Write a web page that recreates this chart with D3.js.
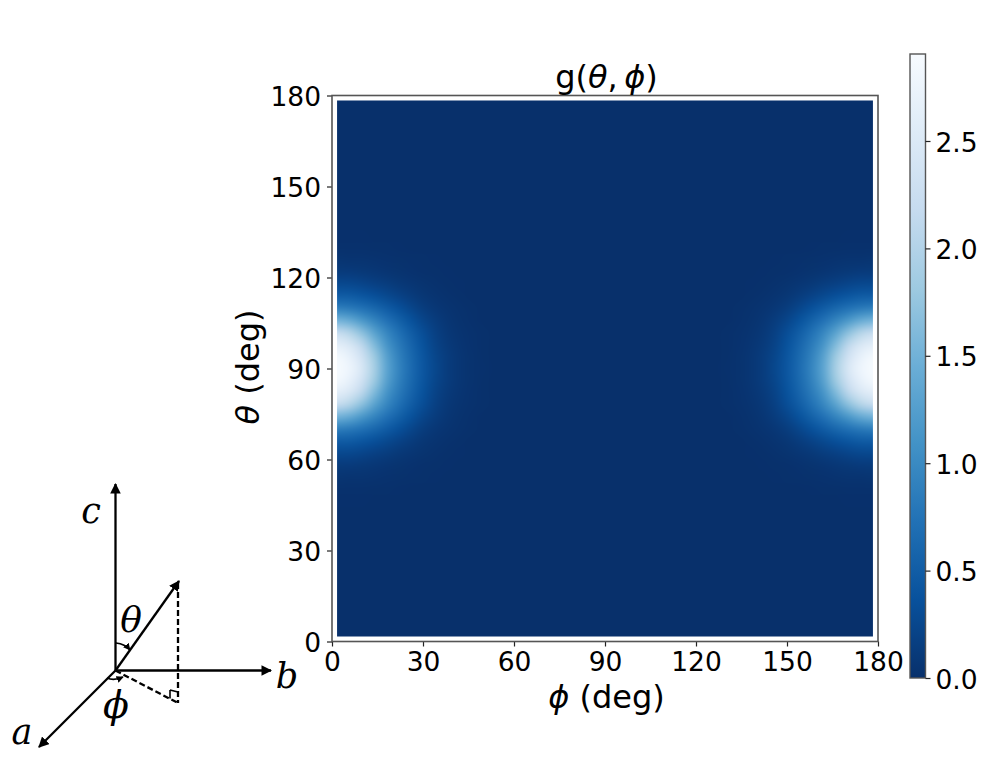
<!DOCTYPE html>
<html><head><meta charset="utf-8">
<script src="https://cdn.jsdelivr.net/npm/d3@7/dist/d3.min.js"></script>
<style>html,body{margin:0;padding:0;background:#fff}svg{display:block}
text{font-family:"DejaVu Sans",sans-serif;fill:#000}</style></head><body>
<svg id="c" width="996" height="779"></svg>
<script>
// ---- data ----
const tickDegrees = [0,30,60,90,120,150,180];
const colorbarTicks = [0,0.5,1,1.5,2,2.5];
const colorMax = 2.905;
const background = 0;
// distance of each row from theta = 90 deg
const rowOffsets = [0,4,8,12,16,20,24,28,32,36,40,44,48];
// distance of each column from the phi = 0 / 180 edge
const columnPhis = [2,6,10,14,18,22,26,30,34,38,42,46,50];
const lobeValues = [
 [2.88,2.75,2.42,1.90,1.33,.93,.65,.42,.25,.13,.065,.03,.012],
 [2.83,2.66,2.32,1.81,1.28,.90,.63,.41,.24,.13,.063,.03,.011],
 [2.58,2.42,2.07,1.59,1.13,.82,.58,.37,.21,.11,.057,.027,.01],
 [2.15,1.98,1.66,1.28,.96,.71,.50,.32,.18,.09,.048,.022,.007],
 [1.48,1.36,1.14,.92,.72,.54,.37,.23,.13,.064,.032,.014,.002],
 [.86,.80,.71,.60,.48,.35,.24,.14,.08,.043,.019,.01,0],
 [.48,.46,.41,.34,.27,.20,.13,.076,.042,.022,.01,.003,0],
 [.26,.25,.22,.18,.14,.094,.065,.039,.022,.01,.004,0,0],
 [.12,.115,.10,.08,.058,.04,.027,.016,.009,.004,0,0,0],
 [.052,.048,.043,.034,.026,.017,.012,.007,.004,0,0,0,0],
 [.015,.014,.013,.01,.008,.005,.003,.002,0,0,0,0,0],
 [.005,.004,.004,.003,.002,0,0,0,0,0,0,0,0],
 [0,0,0,0,0,0,0,0,0,0,0,0,0]
];
const gridCenters = d3.range(2,179,4);
const imageExtent = [1.67,178.33];
// ---- scales ----
const x = d3.scaleLinear().domain([0,180]).range([332,878]);
const y = d3.scaleLinear().domain([0,180]).range([641.5,95.5]);
const blues = d3.schemeBlues[9].slice().reverse();
const color = d3.scaleLinear()
  .domain(blues.map((_,i)=>i/8*colorMax)).range(blues).clamp(true);
const cbY = d3.scaleLinear().domain([0,colorMax]).range([678,54]);

const valueAt = (phi,theta)=>{
  const r = rowOffsets.indexOf(Math.abs(theta-90));
  const c = columnPhis.indexOf(Math.min(phi,180-phi));
  return (r<0||c<0)?background:lobeValues[r][c];
};
const svg = d3.select('#c');
const defs = svg.append('defs');

// ---- heat map: cells painted small, smoothed when enlarged ----
const n = gridCenters.length;
const small = document.createElement('canvas'); small.width=n; small.height=n;
const sc = small.getContext('2d');
gridCenters.forEach((th,j)=>gridCenters.forEach((ph,i)=>{
  sc.fillStyle = color(valueAt(ph,th)); sc.fillRect(i,n-1-j,1,1);
}));
const W = Math.round(x(180)-x(0)), H = Math.round(y(0)-y(180));
const big = document.createElement('canvas'); big.width=W; big.height=H;
const bc = big.getContext('2d');
bc.imageSmoothingEnabled=true; bc.imageSmoothingQuality='high';
bc.drawImage(small,0,0,W,H);
defs.append('clipPath').attr('id','imgclip').append('rect')
  .attr('x',x(imageExtent[0])).attr('y',y(imageExtent[1]))
  .attr('width',x(imageExtent[1])-x(imageExtent[0]))
  .attr('height',y(imageExtent[0])-y(imageExtent[1]));
svg.append('g').attr('clip-path','url(#imgclip)').append('image')
  .attr('x',x(0)).attr('y',y(180)).attr('width',W).attr('height',H)
  .attr('preserveAspectRatio','none').attr('href',big.toDataURL());

// ---- axes ----
const FS=26.5, spine='#555';
const gx = svg.append('g').attr('transform',`translate(0,${y(0)})`)
  .call(d3.axisBottom(x).tickValues(tickDegrees).tickSize(5).tickPadding(6).tickFormat(d3.format('d')));
const gy = svg.append('g').attr('transform',`translate(${x(0)},0)`)
  .call(d3.axisLeft(y).tickValues(tickDegrees).tickSize(5).tickPadding(6).tickFormat(d3.format('d')));
[gx,gy].forEach(g=>{
  g.selectAll('text').attr('font-size',FS).style('font-family','"DejaVu Sans"');
  g.selectAll('.tick line').attr('stroke','#222').attr('stroke-width',1.2);
  g.select('.domain').remove();
});
gy.selectAll('text').attr('dy','0.36em');
svg.append('rect').attr('x',x(0)).attr('y',y(180)).attr('width',x(180)-x(0)).attr('height',y(0)-y(180))
  .attr('fill','none').attr('stroke',spine).attr('stroke-width',1.6);

const label=(s,px,py,fs,rot)=>{
  const t=svg.append('text').attr('font-size',fs).attr('text-anchor','middle')
    .attr('transform',`translate(${px},${py})`+(rot?` rotate(${rot})`:''));
  s.forEach(p=>t.append('tspan').text(p[0]).style('font-style',p[1]?'italic':'normal'));
};
label([['g('],['θ',1],[',\u2009'],['ϕ',1],[')']],606.5,88,32);
label([['ϕ',1],[' (deg)']],606.5,708,32);
label([['θ',1],[' (deg)']],259,367,32,-90);

// ---- colour bar ----
const grad=defs.append('linearGradient').attr('id','cb').attr('x1',0).attr('x2',0).attr('y1',1).attr('y2',0);
blues.forEach((c,i)=>grad.append('stop').attr('offset',i/8).attr('stop-color',c));
svg.append('rect').attr('x',910).attr('y',cbY(colorMax)).attr('width',15.5).attr('height',cbY(0)-cbY(colorMax))
  .attr('fill','url(#cb)').attr('stroke',spine).attr('stroke-width',1.4);
const gc=svg.append('g').attr('transform','translate(925.5,0)')
  .call(d3.axisRight(cbY).tickValues(colorbarTicks).tickSize(5).tickPadding(5).tickFormat(d3.format('.1f')));
gc.select('.domain').remove();
gc.selectAll('text').attr('font-size',FS).attr('dy','0.38em').style('font-family','"DejaVu Sans"');
gc.selectAll('.tick line').attr('stroke','#222').attr('stroke-width',1.2);

// ---- orientation sketch ----
const ink=svg.append('g').attr('fill','none').attr('stroke','#000').attr('stroke-width',2.3);
defs.append('marker').attr('id','ah').attr('viewBox','0 0 10 10').attr('refX',9).attr('refY',5)
  .attr('markerWidth',4.6).attr('markerHeight',4.6).attr('markerUnits','strokeWidth').attr('orient','auto')
  .append('path').attr('d','M0,0L10,5L0,10Z').attr('fill','#000').attr('stroke','none');
defs.append('marker').attr('id','ahs').attr('viewBox','0 0 10 10').attr('refX',9).attr('refY',5)
  .attr('markerWidth',4.2).attr('markerHeight',4.2).attr('markerUnits','strokeWidth').attr('orient','auto')
  .append('path').attr('d','M0,0L10,5L0,10Z').attr('fill','#000').attr('stroke','none');
const O=[115.5,670.5];
[[115.5,484],[271,670.5],[39,747],[179,581]].forEach(p=>{
  ink.append('line').attr('x1',O[0]).attr('y1',O[1]).attr('x2',p[0]).attr('y2',p[1]).attr('marker-end','url(#ah)');
});
const dash=ink.append('g').attr('stroke-dasharray','6 3');
dash.append('line').attr('x1',178).attr('y1',583).attr('x2',178).attr('y2',703);
dash.append('line').attr('x1',O[0]).attr('y1',O[1]).attr('x2',178).attr('y2',703);
ink.append('path').attr('d','M170,690L170,698.5M170,690L178,692').attr('stroke-width',1.6);
ink.append('path').attr('d','M116,643Q125,644 130,650').attr('stroke-width',1.7).attr('marker-end','url(#ahs)');
ink.append('path').attr('d','M107,678Q114,681 123,677').attr('stroke-width',1.7).attr('marker-end','url(#ahs)');
const sym=(s,px,py,fs)=>svg.append('text').attr('x',px).attr('y',py).attr('font-size',fs).attr('text-anchor','middle')
  .style('font-family','"DejaVu Serif"').style('font-style','italic').text(s);
sym('c',91,523,35); sym('a',22,744,35); sym('b',287,688,35);
sym('θ',131,632,36); sym('ϕ',116,718,38);
</script></body></html>
